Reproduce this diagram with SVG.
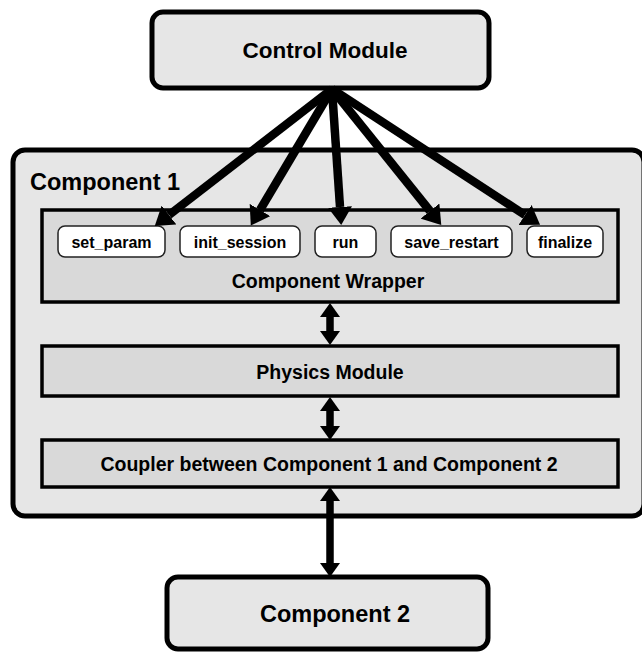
<svg xmlns="http://www.w3.org/2000/svg" width="642" height="654" viewBox="0 0 642 654">
<style>
  .big { fill:#e6e6e6; stroke:#000; stroke-width:5; }
  .inner { fill:#d9d9d9; stroke:#000; stroke-width:3.5; }
  .btn { fill:#fff; stroke:#222; stroke-width:1.5; }
  text { font-family:"Liberation Sans", Arial, sans-serif; font-weight:bold; fill:#000; text-anchor:middle; }
  .t24 { font-size:23.5px; }
  .t22 { font-size:22.5px; }
  .t20 { font-size:19.5px; }
  .t16 { font-size:16px; }
  .fan { stroke:#000; stroke-width:8.5; fill:none; marker-end:url(#headL); }
  .dbl { stroke:#000; stroke-width:7.5; fill:none; marker-start:url(#headS); marker-end:url(#headS); }
</style>
<defs>
  <marker id="headL" markerUnits="userSpaceOnUse" markerWidth="19" markerHeight="24" refX="0" refY="12" orient="auto">
    <path d="M0,0 L18,12 L0,24 z" fill="#000"/>
  </marker>
  <marker id="headS" markerUnits="userSpaceOnUse" markerWidth="15" markerHeight="20" refX="0" refY="10" orient="auto-start-reverse">
    <path d="M0,0 L14,10 L0,20 z" fill="#000"/>
  </marker>
</defs>

<g id="component1">
  <rect class="big" x="13" y="150" width="631" height="366" rx="12"/>
  <text class="t24" x="30" y="190" style="text-anchor:start">Component 1</text>
</g>

<g id="control-module">
  <rect class="big" x="152" y="12" width="337" height="76" rx="11"/>
  <text class="t22" x="325" y="58">Control Module</text>
</g>

<g id="component-wrapper">
  <rect class="inner" x="42" y="210" width="576" height="92"/>
  <text class="t20" x="328" y="288">Component Wrapper</text>
</g>

<g id="set_param">
  <rect class="btn" x="58" y="226" width="107" height="31" rx="7"/>
  <text class="t16" x="111.5" y="247.5">set_param</text>
</g>
<g id="init_session">
  <rect class="btn" x="180" y="226" width="120" height="31" rx="7"/>
  <text class="t16" x="240" y="247.5">init_session</text>
</g>
<g id="run">
  <rect class="btn" x="315" y="226" width="61" height="31" rx="7"/>
  <text class="t16" x="345.5" y="247.5">run</text>
</g>
<g id="save_restart">
  <rect class="btn" x="391" y="226" width="121" height="31" rx="7"/>
  <text class="t16" x="451.5" y="247.5">save_restart</text>
</g>
<g id="finalize">
  <rect class="btn" x="527" y="226" width="76" height="31" rx="7"/>
  <text class="t16" x="565" y="247.5">finalize</text>
</g>

<g id="physics-module">
  <rect class="inner" x="42" y="346" width="576" height="50"/>
  <text class="t20" x="330" y="379">Physics Module</text>
</g>

<g id="coupler">
  <rect class="inner" x="42" y="440" width="576" height="47"/>
  <text class="t20" x="329" y="471">Coupler between Component 1 and Component 2</text>
</g>

<g id="component2">
  <rect class="big" x="167" y="577" width="321" height="72" rx="11"/>
  <text class="t24" x="335" y="622">Component 2</text>
</g>

<g id="connectors">
  <path class="fan" d="M332,89 L169,215"/>
  <path class="fan" d="M332,89 L260,210"/>
  <path class="fan" d="M332,89 L340,207"/>
  <path class="fan" d="M332,89 L430,211"/>
  <path class="fan" d="M332,89 L525,215"/>
  <path class="dbl" d="M330,317 L330,331"/>
  <path class="dbl" d="M330,411 L330,426"/>
  <path class="dbl" d="M330,501 L330,563"/>
</g>
</svg>
